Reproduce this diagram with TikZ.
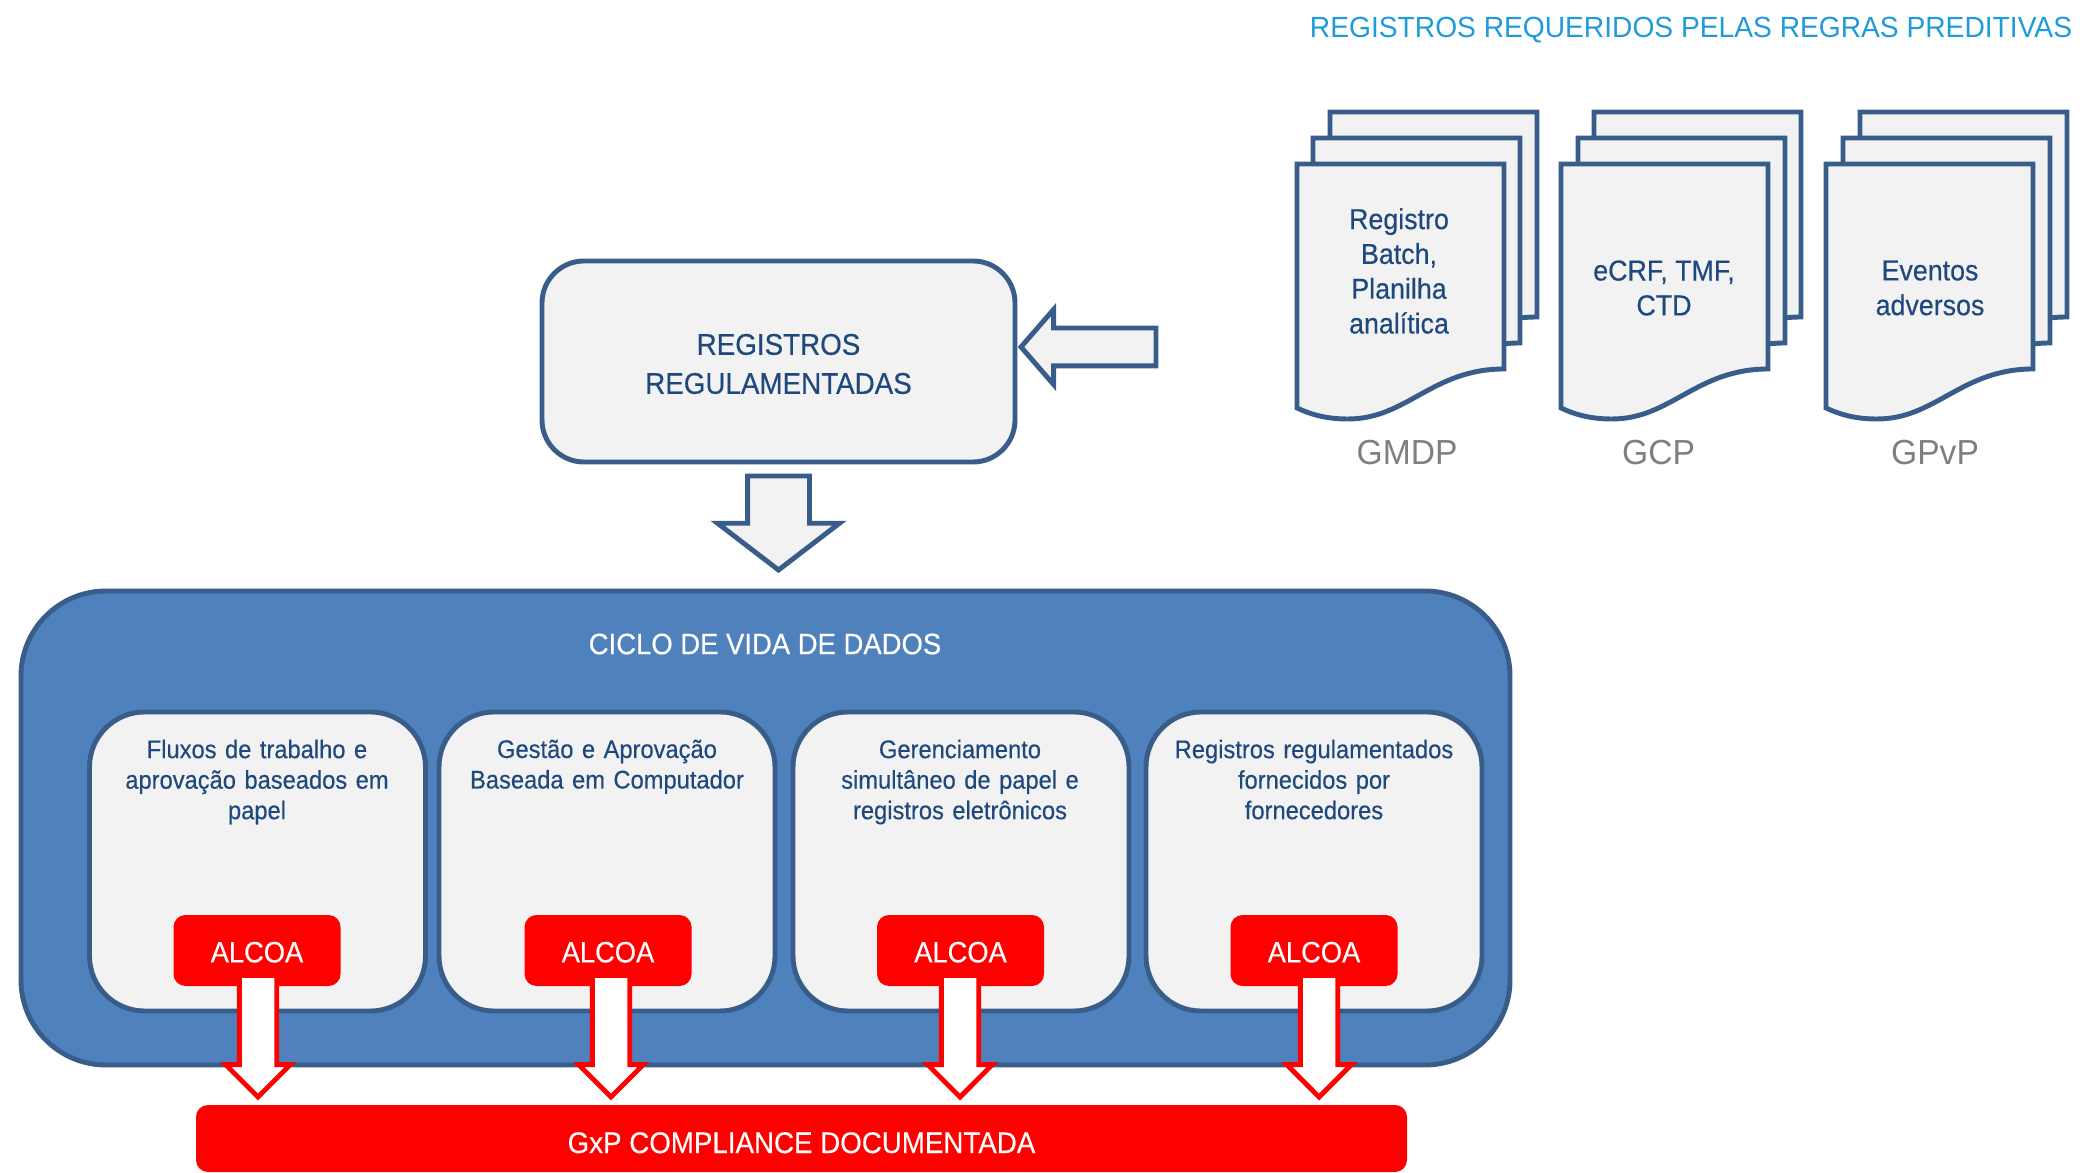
\documentclass[tikz,border=0pt]{standalone}
\usepackage{fontspec}
\setmainfont[FakeStretch=0.966]{Liberation Sans}
\newfontfamily\heavyface[FakeStretch=0.93,FakeBold=0.35]{Liberation Sans}
\usetikzlibrary{arrows.meta, positioning, shapes.arrows}
\definecolor{boxline}{HTML}{385D8A}
\definecolor{boxfill}{HTML}{F2F2F2}
\definecolor{cycleblue}{HTML}{4F81BD}
\definecolor{navytext}{HTML}{1F497D}
\definecolor{titleblue}{HTML}{1F9BD9}
\definecolor{labelgray}{HTML}{7F7F7F}
\tikzset{
  sheetline/.style={draw=boxline, line width=1.4pt, fill=boxfill},
  mainbox/.style={sheetline, rounded corners=0.42cm, minimum width=4.73cm, minimum height=2.01cm},
  maintext/.style={align=center, text=navytext, font=\heavyface\fontsize{8.5}{11.1}\selectfont},
  cyclebox/.style={draw=boxline, line width=1.4pt, fill=cycleblue, rounded corners=0.85cm, minimum width=14.89cm, minimum height=4.74cm},
  stagebox/.style={sheetline, rounded corners=0.55cm, minimum width=3.36cm, minimum height=2.99cm},
  stagetext/.style={anchor=north, text width=3.2cm, align=center, text=navytext, inner sep=0pt, font=\heavyface\fontsize{7.25}{8.68}\selectfont},
  alcoabox/.style={fill=red, rounded corners=0.12cm, minimum width=1.67cm, minimum height=0.71cm, text=white, text height=0.236cm, text depth=0cm, font=\heavyface\fontsize{8.35}{10}\selectfont},
  sheettext/.style={align=center, text=navytext, font=\heavyface\fontsize{8.2}{9.9}\selectfont},
  rulelabel/.style={text=labelgray, font=\fontsize{9.9}{12}\selectfont},
  grayarrow/.style={single arrow, sheetline, inner sep=0pt, outer sep=0pt},
  redarrow/.style={single arrow, draw=red, fill=white, line width=1.4pt, inner sep=0.1625cm, outer sep=0pt, anchor=tip, shape border rotate=270, minimum height=1.215cm, minimum width=0.60cm, single arrow head extend=0.1375cm, single arrow tip angle=90},
  docsheet/.pic={
    \draw[sheetline] (0,0) -- (2.07,0) -- (2.07,-2.05) .. controls (1.35,-2.05) and (1.1,-2.55) .. (0.51,-2.55) .. controls (0.3,-2.55) and (0.15,-2.51) .. (0,-2.44) -- cycle;
  }
}
\begin{document}
\begin{tikzpicture}
  \useasboundingbox (0,0) rectangle (20.82,11.72);

  % Title
  \node[text=titleblue, font=\fontsize{8.3}{10}\selectfont] (title) at (16.91,11.42) {REGISTROS REQUERIDOS PELAS REGRAS PREDITIVAS};

  % Documents
  \pic at (13.30,10.60) {docsheet};
  \pic at (13.13,10.34) {docsheet};
  \pic at (12.97,10.08) {docsheet};
  \pic at (15.94,10.60) {docsheet};
  \pic at (15.78,10.34) {docsheet};
  \pic at (15.61,10.08) {docsheet};
  \pic at (18.60,10.60) {docsheet};
  \pic at (18.43,10.34) {docsheet};
  \pic at (18.26,10.08) {docsheet};
  \node[sheettext] (batch) at (13.99,9.01) {Registro\\Batch,\\Planilha\\analítica};
  \node[sheettext] (ecrf) at (16.64,8.84) {eCRF, TMF,\\CTD};
  \node[sheettext] (eventos) at (19.30,8.84) {Eventos\\adversos};
  \node[rulelabel] (gmdp) at (14.07,7.19) {GMDP};
  \node[rulelabel] (gcp) at (16.585,7.19) {GCP};
  \node[rulelabel] (gpvp) at (19.35,7.19) {GPvP};

  % Regulated records
  \node[mainbox] (registros) at (7.785,8.105) {};
  \node[maintext] (registrostext) at (7.785,8.08) {REGISTROS\\REGULAMENTADAS};
  \node[grayarrow, anchor=tip, shape border rotate=180, minimum height=1.35cm, minimum width=0.70cm, inner sep=0.165cm, single arrow head extend=0.185cm, single arrow tip angle=98] (arrowin) at (10.21,8.25) {};
  \node[grayarrow, anchor=tip, shape border rotate=270, minimum height=0.94cm, minimum width=1.17cm, inner sep=0.285cm, single arrow head extend=0.30cm, single arrow tip angle=105] (arrowdown) at (7.785,6.02) {};

  % Data life cycle
  \node[cyclebox] (ciclo) at (7.655,3.44) {};
  \node[text=white, font=\heavyface\fontsize{8.4}{10}\selectfont] (ciclotext) at (7.65,5.28) {CICLO DE VIDA DE DADOS};
  \node[stagebox] (s1) at (2.575,3.105) {};
  \node[stagebox] (s2) at (6.07,3.105) {};
  \node[stagebox] (s3) at (9.61,3.105) {};
  \node[stagebox] (s4) at (13.14,3.105) {};
  \node[stagetext] (s1text) at (2.57,4.33) {Fluxos de trabalho e\\aprovação baseados em\\papel};
  \node[stagetext] (s2text) at (6.07,4.33) {Gestão e Aprovação\\Baseada em Computador};
  \node[stagetext] (s3text) at (9.60,4.33) {Gerenciamento\\simultâneo de papel e\\registros eletrônicos};
  \node[stagetext] (s4text) at (13.14,4.33) {Registros regulamentados\\fornecidos por\\fornecedores};

  % ALCOA
  \node[alcoabox] (a1) at (2.57,2.215) {ALCOA};
  \node[alcoabox] (a2) at (6.08,2.215) {ALCOA};
  \node[alcoabox] (a3) at (9.605,2.215) {ALCOA};
  \node[alcoabox] (a4) at (13.14,2.215) {ALCOA};

  % Red arrows
  \node[redarrow] (r1) at (2.58,0.75) {};
  \node[redarrow] (r2) at (6.11,0.75) {};
  \node[redarrow] (r3) at (9.60,0.75) {};
  \node[redarrow] (r4) at (13.19,0.75) {};

  % Compliance
  \node[fill=red, rounded corners=0.12cm, minimum width=12.11cm, minimum height=0.67cm, text=white, text height=0.29cm, text depth=0cm, font=\heavyface\fontsize{8.48}{10}\selectfont] (gxp) at (8.015,0.335) {GxP COMPLIANCE DOCUMENTADA};
\end{tikzpicture}
\end{document}
